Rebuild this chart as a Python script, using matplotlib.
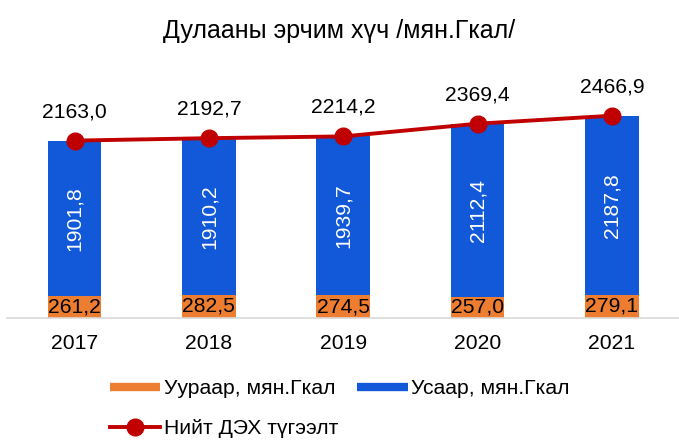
import numpy as np
import matplotlib.pyplot as plt
from matplotlib.lines import Line2D

plt.rcParams['font.family'] = ['Liberation Sans', 'DejaVu Sans']

# --- Data ---
years = ["2017", "2018", "2019", "2020", "2021"]
coal = [261.2, 282.5, 274.5, 257.0, 279.1]          # Уураар
water = [1901.8, 1910.2, 1939.7, 2112.4, 2187.8]     # Усаар
total = [2163.0, 2192.7, 2214.2, 2369.4, 2466.9]     # Нийт ДЭХ түгээлт

ORANGE = "#ED7D31"
BLUE = "#1159D8"
RED = "#C00000"
FS = 15.2


def fmt(v):
    return f"{v:.1f}".replace(".", ",")


def main():
    fig = plt.figure(figsize=(6.79, 4.42), dpi=100)
    ax = fig.add_axes([0.011, 0.281, 0.989, 0.556])

    x = np.arange(len(years))
    w = 0.4
    ax.bar(x, coal, w, color=ORANGE, zorder=2)
    ax.bar(x, water, w, bottom=coal, color=BLUE, zorder=2)
    ax.plot(x, total, color=RED, lw=2.8, marker="o", ms=12, zorder=3)

    for i in range(len(years)):
        ax.text(x[i], coal[i] / 2, fmt(coal[i]), ha="center", va="center",
                fontsize=FS, color="black", zorder=4)
        ax.text(x[i], coal[i] + water[i] / 2, fmt(water[i]), ha="center",
                va="center", rotation=90, fontsize=FS, color="white", zorder=4)
        ax.annotate(fmt(total[i]), (x[i], total[i]), xytext=(0, 14),
                    textcoords="offset points", ha="center", va="bottom",
                    fontsize=FS, zorder=4)

    ax.set_xlim(-0.5, 4.5)
    ax.set_ylim(0, 3000)
    ax.set_xticks(x)
    ax.set_xticklabels(years, fontsize=FS)
    ax.tick_params(axis="x", length=0, pad=12)
    ax.set_yticks([])
    for s in ["top", "right", "left"]:
        ax.spines[s].set_visible(False)
    ax.spines["bottom"].set_color("#D9D9D9")
    ax.spines["bottom"].set_linewidth(1.2)

    fig.text(0.5, 0.93, "Дулааны эрчим хүч /мян.Гкал/", ha="center",
             va="center", fontsize=18)

    # legend order arranged so rows read: orange, blue / line
    handles = [
        Line2D([], [], color=ORANGE, lw=6, solid_capstyle="butt"),
        Line2D([], [], color=RED, lw=2.8, marker="o", ms=12),
        Line2D([], [], color=BLUE, lw=6, solid_capstyle="butt"),
    ]
    labels = ["Уураар, мян.Гкал", "Нийт ДЭХ түгээлт", "Усаар, мян.Гкал"]
    fig.legend(handles, labels, ncol=2, loc="lower center",
               bbox_to_anchor=(0.5, -0.035), frameon=False, fontsize=FS,
               handlelength=2.4, handletextpad=0.15, columnspacing=0.9,
               labelspacing=1.0)

    fig.savefig("out.png", dpi=100)


if __name__ == "__main__":
    main()
